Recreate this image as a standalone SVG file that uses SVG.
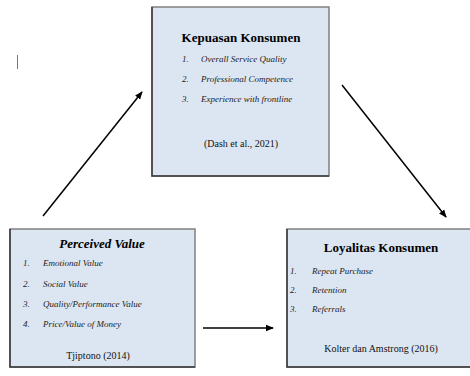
<svg xmlns="http://www.w3.org/2000/svg" width="470" height="376" viewBox="0 0 470 376">
<style>
.box{fill:#dce6f2;stroke:#808080;stroke-width:1.5}
.edge{stroke:#3a3a3a;stroke-width:1.5;fill:none}
text{font-family:"Liberation Serif","Times New Roman","DejaVu Serif",serif}
.title{font-size:13px;font-weight:bold;fill:#000;text-anchor:middle}
.item{font-size:9px;font-style:italic;fill:#222}
.cite{font-size:10px;fill:#111;text-anchor:middle}
.conn{stroke:#000;stroke-width:1.5;fill:none;marker-end:url(#ah)}
</style>
<defs>
<marker id="ah" markerWidth="8" markerHeight="8" refX="7" refY="4" orient="auto" markerUnits="userSpaceOnUse">
<path d="M0,0.8 L8,4 L0,7.2 Z" fill="#000"/>
</marker>
</defs>
<rect width="470" height="376" fill="#fff"/>
<line x1="17.5" y1="55" x2="17.5" y2="69" stroke="#777" stroke-width="1"/>
<g id="kepuasan">
<rect class="box" x="152" y="7" width="177" height="169"/>
<path class="edge" d="M152,7 V176 H329"/>
<text class="title" x="241" y="42">Kepuasan Konsumen</text>
<text class="item" x="182" y="62">1.</text><text class="item" x="201" y="62">Overall Service Quality</text>
<text class="item" x="182" y="82">2.</text><text class="item" x="201" y="82">Professional Competence</text>
<text class="item" x="182" y="102">3.</text><text class="item" x="201" y="102">Experience with frontline</text>
<text class="cite" x="241" y="147">(Dash et al., 2021)</text>
</g>
<g id="perceived">
<rect class="box" x="10" y="229" width="185" height="138"/>
<path class="edge" d="M10,229 V367 H195"/>
<text class="title" x="102" y="248" font-style="italic">Perceived Value</text>
<text class="item" x="23" y="266">1.</text><text class="item" x="43" y="266">Emotional Value</text>
<text class="item" x="23" y="287">2.</text><text class="item" x="43" y="287">Social Value</text>
<text class="item" x="23" y="307">3.</text><text class="item" x="43" y="307">Quality/Performance Value</text>
<text class="item" x="23" y="327">4.</text><text class="item" x="43" y="327">Price/Value of Money</text>
<text class="cite" x="98" y="359">Tjiptono (2014)</text>
</g>
<g id="loyalitas">
<rect class="box" x="287" y="229" width="190" height="138"/>
<path class="edge" d="M287,229 V367 H470"/>
<text class="title" x="381" y="252">Loyalitas Konsumen</text>
<text class="item" x="290" y="274">1.</text><text class="item" x="312" y="274">Repeat Purchase</text>
<text class="item" x="290" y="293">2.</text><text class="item" x="312" y="293">Retention</text>
<text class="item" x="290" y="312">3.</text><text class="item" x="312" y="312">Referrals</text>
<text class="cite" x="381" y="352">Kolter dan Amstrong (2016)</text>
</g>
<g id="connectors">
<line class="conn" x1="43" y1="216" x2="142" y2="92"/>
<line class="conn" x1="342" y1="85" x2="446" y2="217"/>
<line class="conn" x1="203" y1="328" x2="273" y2="328"/>
</g>
</svg>
